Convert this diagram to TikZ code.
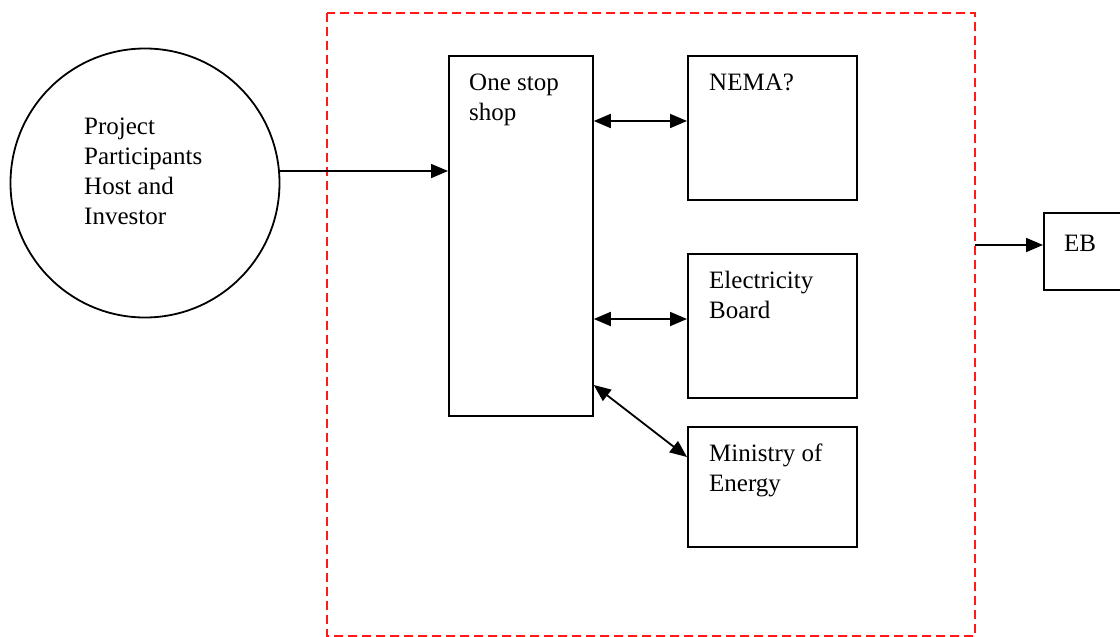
\documentclass[tikz,border=0pt]{standalone}
\usepackage{fontspec}
\setmainfont{Liberation Serif}
\usetikzlibrary{arrows.meta}
\tikzset{
  box/.style={draw=black, line width=1.8pt, fill=none},
  txt/.style={anchor=base west, inner sep=0pt, align=left, font=\fontsize{25}{30}\selectfont},
  tip/.style={Triangle[length=17pt,width=14pt]},
  conn/.style={line width=1.8pt, -{Triangle[length=17pt,width=14pt]}},
  biconn/.style={line width=1.8pt, {Triangle[length=17pt,width=14pt]}-{Triangle[length=17pt,width=14pt]}},
  zone/.style={draw=red!90!white, line width=2.2pt, dash pattern=on 9pt off 5pt}
}
\begin{document}
\begin{tikzpicture}[x=1pt,y=-1pt]
\useasboundingbox (0,0) rectangle (1120,637);
% big circle
\node[draw=black, line width=1.8pt, circle, minimum size=269pt, inner sep=0pt] (pp) at (145,183) {};
\node[txt] (pptxt) at (84,134) {Project};
\node[txt] (pptxt2) at (84,164) {Participants};
\node[txt] (pptxt3) at (84,194) {Host and};
\node[txt] (pptxt4) at (84,224) {Investor};
% red dashed zone
\draw[zone] (327,13) rectangle (975,636);
\coordinate (zoneR) at (975,245);
% boxes
\node[box, anchor=north west, minimum width=144pt, minimum height=360pt, inner sep=0pt] (oss) at (448,55) {};
\node[txt] (osst) at (469,90) {One stop};
\node[txt] (osst2) at (469,120) {shop};
\node[box, anchor=north west, minimum width=169pt, minimum height=144pt, inner sep=0pt] (nema) at (687,55) {};
\node[txt] (nemat) at (709,90) {NEMA?};
\node[box, anchor=north west, minimum width=169pt, minimum height=144pt, inner sep=0pt] (eboard) at (687,253) {};
\node[txt] (ebt) at (709,288) {Electricity};
\node[txt] (ebt2) at (709,318) {Board};
\node[box, anchor=north west, minimum width=169pt, minimum height=120pt, inner sep=0pt] (moe) at (687,426) {};
\node[txt] (moet) at (709,461) {Ministry of};
\node[txt] (moet2) at (709,491) {Energy};
\node[box, anchor=north west, minimum width=77pt, minimum height=77pt, inner sep=0pt] (eb) at (1043,212) {};
\node[txt] (ebtx) at (1064,251) {EB};
% connectors
\draw[conn] (pp.east |- 0,171) -- (oss.west |- 0,171);
\draw[biconn] (oss.east |- 0,121) -- (nema.west |- 0,121);
\draw[biconn] (oss.east |- 0,319) -- (eboard.west |- 0,319);
\draw[biconn] (oss.east |- 0,385) -- (moe.west |- 0,457);
\draw[conn] (zoneR) -- (eb.west |- zoneR);
\end{tikzpicture}
\end{document}
